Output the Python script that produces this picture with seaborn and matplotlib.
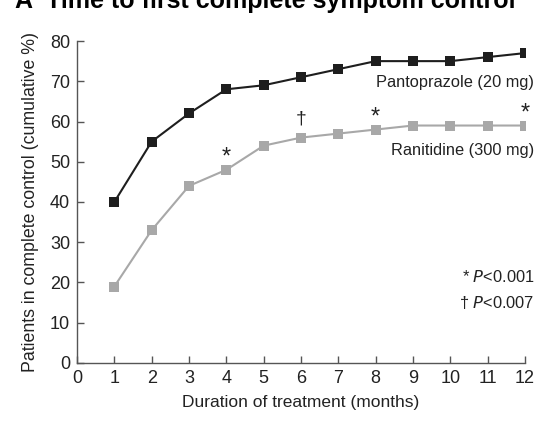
import matplotlib
matplotlib.use("Agg")
import matplotlib.pyplot as plt
import seaborn as sns
import pandas as pd

months = [1, 2, 3, 4, 5, 6, 7, 8, 9, 10, 11, 12]
pantoprazole = [40, 55, 62, 68, 69, 71, 73, 75, 75, 75, 76, 77]
ranitidine = [19, 33, 44, 48, 54, 56, 57, 58, 59, 59, 59, 59]
sig_months = [4, 6, 8, 12]
sig_marks = ["*", "†", "*", "*"]

sns.set_style("ticks")
plt.rcParams['font.family'] = ['Liberation Sans', 'DejaVu Sans']

df = pd.DataFrame({
    "month": months * 2,
    "value": pantoprazole + ranitidine,
    "drug": ["Pantoprazole (20 mg)"] * len(months) + ["Ranitidine (300 mg)"] * len(months),
})

fig = plt.figure(figsize=(5.43, 4.21), dpi=100)
ax = fig.add_axes([0.1418, 0.1378, 0.8251, 0.7648])

sns.lineplot(data=df, x="month", y="value", hue="drug",
             palette={"Pantoprazole (20 mg)": "#1e1e1e", "Ranitidine (300 mg)": "#a8a8a8"},
             marker="s", markersize=7, markeredgewidth=0, linewidth=1.5,
             legend=False, ax=ax)

ax.set_xlim(0, 12)
ax.set_ylim(0, 80)
ax.set_xticks(range(0, 13))
ax.set_yticks(range(0, 81, 10))
ax.tick_params(direction="in", length=5, width=1, color="#555555", labelsize=13, labelcolor="#222222")
ax.tick_params(axis="x", pad=5)
ax.tick_params(axis="y", pad=5)
for s in ["left", "bottom"]:
    ax.spines[s].set_color("#555555")
    ax.spines[s].set_linewidth(1)
sns.despine(ax=ax)
ax.set_xlabel("Duration of treatment (months)", fontsize=12.5, color="#222222", labelpad=6)
ax.set_ylabel("Patients in complete control (cumulative %)", fontsize=12.8, color="#222222", labelpad=8)

rmap = dict(zip(months, ranitidine))
for m, s in zip(sig_months, sig_marks):
    if s == "*":
        ax.text(m, rmap[m] + 1.6, s, ha="center", va="baseline", fontsize=17, color="#222222")
    else:
        ax.text(m, rmap[m] + 3.6, s, ha="center", va="baseline", fontsize=14, color="#222222")

ax.text(12.25, 69.7, "Pantoprazole (20 mg)", ha="right", va="center", fontsize=11.8, color="#222222", clip_on=False)
ax.text(12.25, 52.9, "Ranitidine (300 mg)", ha="right", va="center", fontsize=11.8, color="#222222", clip_on=False)
ax.text(12.25, 21.3, "* $P$<0.001", ha="right", va="center", fontsize=11.8, color="#222222", clip_on=False)
ax.text(12.25, 15.1, "† $P$<0.007", ha="right", va="center", fontsize=11.8, color="#222222", clip_on=False)

fig.text(0.028, 1 - 8 / 421, "A  Time to first complete symptom control", fontsize=18,
         fontweight="bold", va="baseline", ha="left", color="black")

fig.savefig("out.png", dpi=100)
